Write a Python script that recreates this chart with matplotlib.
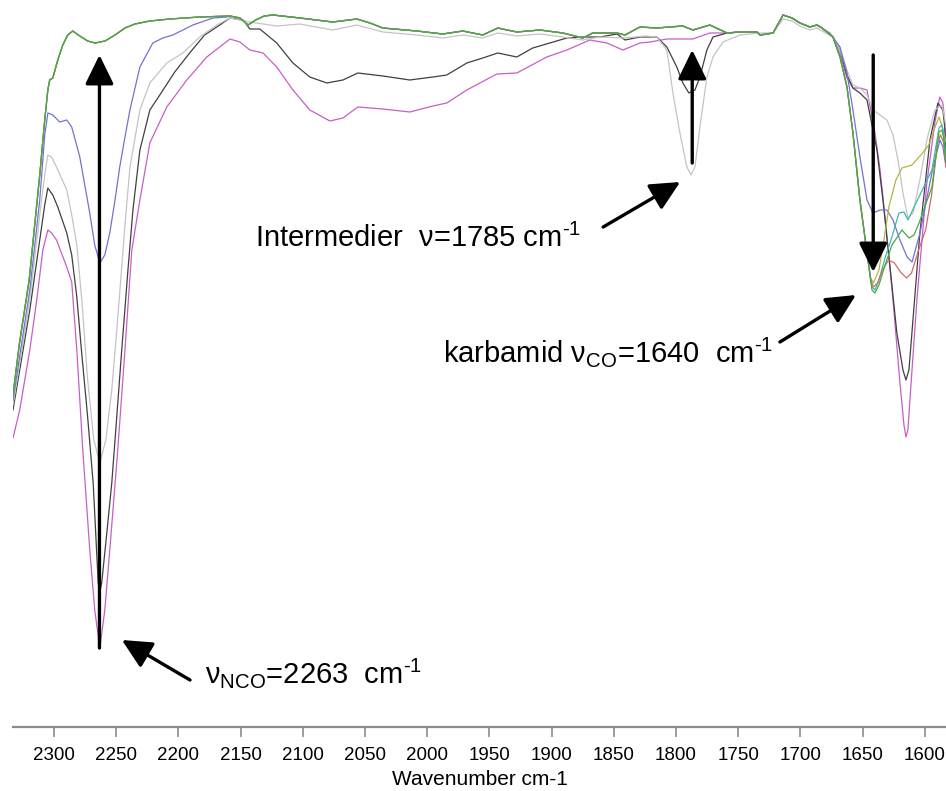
import numpy as np
import matplotlib
matplotlib.use("Agg")
import matplotlib.pyplot as plt

plt.rcParams["font.family"] = ["Liberation Sans", "DejaVu Sans"]
plt.rcParams["mathtext.fontset"] = "custom"
plt.rcParams["mathtext.rm"] = "Liberation Sans"
plt.rcParams["mathtext.it"] = "Liberation Sans:italic"
plt.rcParams["mathtext.bf"] = "Liberation Sans:bold"

# ---- spectra (wavenumber in cm-1, transmittance in arbitrary units) ----
# common trace of the fully reacted samples, 2333 -> 1646 cm-1
base_wn = [2333, 2328, 2320, 2311.5, 2307.5, 2305, 2303.5, 2301, 2297, 2293, 2289, 2285,
           2279.3, 2273, 2267, 2259, 2251, 2243, 2235, 2223, 2207, 2183, 2158.6, 2150.6,
           2144, 2138, 2131, 2124, 2102.4, 2076, 2056.6, 2046, 2035.7, 2008.4, 1987.5,
           1971.4, 1955.4, 1943.3, 1928, 1909.5, 1891, 1875, 1867, 1847.5, 1841, 1829,
           1815.5, 1794.5, 1786.5, 1772.8, 1759, 1748.6, 1735, 1732.4, 1722, 1714, 1706.8,
           1700.4, 1692.4, 1686.7, 1682.7, 1673.9, 1668.2, 1662.6, 1657.8, 1652.2, 1646.5]
base_t = [332, 382, 447, 552, 607, 637, 647, 649, 667, 682, 692, 696,
          691, 686, 684, 686, 692, 699, 703, 706, 708, 710, 711, 709,
          702, 707, 711, 712, 709, 705, 708, 704, 699, 696, 693,
          696, 692, 699, 695, 697, 694, 689, 694, 694, 692, 700,
          699, 701, 697, 702, 694, 695, 695, 692, 694, 712, 709,
          704, 700, 702, 699, 690, 670, 640, 594, 527, 474]

# urea carbonyl region of the fully reacted samples
red_wn = [1643.6, 1641.3, 1638, 1634, 1629.2, 1624.4, 1619.6, 1614.7, 1610.7, 1605, 1599.4,
          1594.6, 1589.8, 1587.4, 1585, 1583]
red_t = [447, 440, 444, 457, 467, 464, 455, 449, 454, 477, 497, 532, 584, 592, 585, 560]

green_wn = [1642.5, 1640.1, 1636.9, 1632, 1626.4, 1618.4, 1612.8, 1608.7, 1604.7, 1594.3,
            1588.6, 1586.4, 1585, 1583]
green_t = [437, 434, 442, 462, 482, 497, 489, 492, 504, 540, 595, 597, 590, 565]

teal_wn = [1642.5, 1640.1, 1636.9, 1632, 1627.2, 1620.8, 1616.8, 1613.6, 1607.1, 1594.3,
           1588.6, 1586.4, 1585, 1583]
teal_t = [440, 437, 447, 469, 487, 514, 515, 507, 524, 557, 599, 602, 595, 570]

olive_wn = [1643.6, 1641.3, 1636.9, 1632.9, 1628.9, 1623.3, 1618.4, 1610.4, 1603.2, 1596.8,
            1591.2, 1588.6, 1586.4, 1585, 1583]
olive_t = [449, 444, 457, 487, 520, 547, 559, 562, 572, 582, 602, 610, 602, 595, 585]

# partially reacted samples
blue_head_wn = [2333, 2319.5, 2311.5, 2307.5, 2305, 2301, 2295.4, 2289.8, 2285.8, 2279.3,
                2275.3, 2271.3, 2267.3, 2263.2, 2259.2, 2255.2, 2251, 2247.2, 2243, 2239,
                2231, 2220.6, 2212.6, 2204.5, 2188.4, 2172.3, 2161]
blue_head_t = [327, 437, 527, 592, 614, 612, 605, 607, 600, 570,
               542, 514, 482, 464, 472, 494, 527, 560, 590, 617,
               660, 684, 689, 692, 702, 709, 710]
blue_tail_wn = [1676.4, 1668.2, 1662.6, 1657.8, 1652.2, 1646.5, 1641.7, 1636.1, 1630.5,
                1625.6, 1620, 1614.3, 1610.3, 1603.9, 1593.4, 1587.8, 1585.5, 1583]
blue_tail_t = [694, 680, 654, 617, 570, 527, 514, 517, 517,
               507, 487, 470, 465, 494, 560, 587, 580, 560]

gray_wn = [2333, 2319.5, 2311.5, 2307.5, 2305, 2302, 2298, 2289.8, 2285.8, 2281.7, 2277.7,
           2273, 2268, 2263.2, 2258.4, 2253.6, 2249.6, 2246.4, 2243, 2239, 2231, 2223,
           2209.4, 2196.5, 2182.8, 2169.2, 2158.6, 2142.6, 2121, 2102.4, 2076, 2056.6,
           2035.7, 2008.4, 1987.5, 1971.4, 1955.4, 1943.3, 1928, 1909.5, 1891, 1875, 1861,
           1841, 1825, 1815.5, 1807.4, 1802.5, 1796.9, 1791.3, 1788, 1784.8, 1780.8,
           1775.2, 1770.3, 1762.3, 1748.6, 1732.5, 1722, 1714, 1706.8, 1700.4, 1692.4,
           1686.7, 1682.7, 1674, 1668.2, 1662.6, 1657.8, 1652.2, 1646.5, 1641.7, 1636,
           1630.5, 1625.6, 1621.6, 1617.6, 1613.6, 1609.5, 1604, 1598.4, 1592, 1586.4,
           1585, 1583]
gray_t = [322, 427, 512, 552, 572, 570, 560, 537, 512, 482, 427,
          347, 287, 264, 287, 337, 397, 447, 502, 560, 617, 644,
          664, 674, 690, 702, 709, 705, 701, 703, 697, 702,
          695, 692, 689, 692, 689, 694, 691, 693, 690, 687, 690,
          689, 691, 690, 677, 634, 594, 560, 552, 560, 600,
          650, 670, 685, 692, 694, 694, 708, 706,
          701, 697, 699, 696, 690, 677, 657, 642, 639, 632, 617, 612,
          607, 592, 567, 534, 509, 514, 547, 587, 617, 622,
          615, 600]

black_head_wn = [2333, 2319.5, 2311.5, 2307.5, 2305, 2301, 2297, 2289.8, 2285.8, 2281.7,
                 2278, 2273, 2268.5, 2264.5, 2263.2, 2261.7, 2257.6, 2253.6, 2249.6, 2245.6,
                 2240.6, 2236.6, 2231, 2223, 2215, 2203, 2191, 2179, 2169.2, 2158.6, 2148,
                 2142.6, 2134.6, 2121, 2108, 2094.4, 2080.7, 2067.8, 2055.8, 2035.7, 2014,
                 1995.5, 1984.3, 1968.2, 1955.4, 1943.3, 1928, 1915.2, 1901.5, 1887.8, 1875,
                 1861.2, 1847.5, 1841, 1829, 1815.5, 1807.4, 1799.4, 1794.5, 1789.7, 1784.8,
                 1780.8, 1775.2, 1770.3, 1759, 1748.6]
black_head_t = [317, 417, 487, 522, 539, 532, 520, 494, 472, 430,
                377, 310, 243, 144, 135, 144, 194, 244, 310, 377,
                457, 517, 577, 617, 632, 655, 674, 692, 700, 709, 707,
                698, 698, 684, 664, 650, 644, 647, 654, 651, 647,
                650, 652, 664, 669, 674, 670, 679, 684, 689, 690,
                690, 693, 687, 690, 690, 680, 660, 644, 634, 637,
                650, 677, 690, 694, 695]
black_tail_wn = [1668.2, 1662.6, 1657.8, 1652.2, 1646.5, 1642.5, 1638.5, 1633.7, 1628,
                 1622.5, 1617.6, 1615.2, 1612.8, 1610.4, 1604, 1595.9, 1589.5, 1585.5,
                 1584, 1583]
black_tail_t = [677, 652, 639, 634, 627, 602, 577, 527, 460,
                394, 357, 347, 357, 394, 494, 587, 624, 617, 600, 570]

magenta_head_wn = [2333, 2327.6, 2319.5, 2313.9, 2309, 2305, 2302, 2298, 2289.8, 2285.8,
                   2281.7, 2276.9, 2271.3, 2267.3, 2263.2, 2259.2, 2255.2, 2248.8, 2243,
                   2237.5, 2231, 2223, 2209.4, 2193.3, 2177.2, 2158.6, 2150.6, 2142.6, 2132,
                   2121, 2108, 2094.4, 2078.3, 2067.8, 2055.8, 2035.7, 2014, 1995.5, 1984.3,
                   1968.2, 1944.1, 1928, 1903.9, 1887.8, 1869.3, 1855.6, 1842.7, 1829,
                   1820.9, 1807.4, 1786.5, 1772.8, 1759]
magenta_head_t = [289, 317, 377, 427, 477, 497, 494, 487, 460, 445,
                  377, 277, 177, 117, 79, 117, 177, 277, 377,
                  477, 527, 584, 620, 647, 670, 688, 685, 677, 674,
                  660, 637, 617, 606, 609, 620, 618, 615, 621, 624,
                  637, 653, 654, 670, 677, 687, 684, 677, 684,
                  685, 688, 688, 694, 694]
magenta_tail_wn = [1668.2, 1662.6, 1657.8, 1652.2, 1646.5, 1640.1, 1636, 1632, 1625.6, 1620,
                   1616.8, 1615.2, 1613.6, 1612, 1606.4, 1598.4, 1592, 1588, 1585.5, 1584,
                   1583]
magenta_tail_t = [672, 649, 639, 639, 637, 594, 557, 510, 427, 344,
                  302, 290, 297, 327, 427, 544, 604, 630, 624, 605, 575]


def splice(head_wn, head_t, tail_wn, tail_t):
    """Join a sample's own segments with the common trace lying between them."""
    bw = np.asarray(base_wn)
    bt = np.asarray(base_t)
    hi = head_wn[-1] if head_wn else np.inf
    lo = tail_wn[0]
    m = (bw < hi) & (bw > lo)
    return (np.concatenate([head_wn, bw[m], tail_wn]),
            np.concatenate([head_t, bt[m], tail_t]))


fig = plt.figure(figsize=(9.46, 7.91), dpi=100)
ax = fig.add_axes([13 / 946, 64 / 791, 933 / 946, 727 / 791])

lw = 0.9
x, y = splice(magenta_head_wn, magenta_head_t, magenta_tail_wn, magenta_tail_t)
ax.plot(x, y, color="#c75ec7", lw=lw)
x, y = splice(black_head_wn, black_head_t, black_tail_wn, black_tail_t)
ax.plot(x, y, color="#404040", lw=lw)
ax.plot(gray_wn, gray_t, color="#c4c4c4", lw=lw)
x, y = splice(blue_head_wn, blue_head_t, blue_tail_wn, blue_tail_t)
ax.plot(x, y, color="#7272d4", lw=lw)
for wn, t, c in [(olive_wn, olive_t, "#b4b444"),
                 (teal_wn, teal_t, "#44b4b4"),
                 (red_wn, red_t, "#d06a6a"),
                 (green_wn, green_t, "#44ac44")]:
    x, y = splice([], [], wn, t)
    ax.plot(x, y, color=c, lw=lw)

ax.set_xlim(2333, 1583)
ax.set_ylim(0, 727)

for s in ("left", "right", "top"):
    ax.spines[s].set_visible(False)
ax.spines["bottom"].set_color("#8c8c8c")
ax.spines["bottom"].set_linewidth(1.6)
ax.set_yticks([])
ax.set_xticks(np.arange(2300, 1599, -50))
ax.tick_params(axis="x", direction="out", length=7.5, width=1.2, colors="#8c8c8c",
               labelcolor="black", labelsize=13.5, pad=7)
ax.set_xlabel("Wavenumber cm-1", fontsize=15, labelpad=4)

# band assignments
arrow_kw = dict(arrowstyle="-|>,head_length=0.45,head_width=0.22", lw=2.4,
                color="black", mutation_scale=40, shrinkA=0, shrinkB=0)
ax.annotate("", xy=(2263.5, 672), xytext=(2263.5, 79), arrowprops=arrow_kw)
ax.annotate("", xy=(1787, 677), xytext=(1787, 564), arrowprops=arrow_kw)
ax.annotate("", xy=(1641.5, 455), xytext=(1641.5, 672), arrowprops=arrow_kw)
ax.annotate("", xy=(1796.7, 545), xytext=(1858.6, 500), arrowprops=arrow_kw)
ax.annotate("", xy=(1655.4, 432), xytext=(1716.5, 385), arrowprops=arrow_kw)
ax.annotate("", xy=(2245.5, 87), xytext=(2190.7, 47), arrowprops=arrow_kw)

fs = 21
ax.text(2138.6, 480, "Intermedier  ν=1785 cm$^{\\text{-1}}$", fontsize=fs,
        ha="left", va="baseline")
ax.text(1987.5, 365, "karbamid ν$_{\\mathrm{CO}}$=1640  cm$^{\\text{-1}}$", fontsize=fs,
        ha="left", va="baseline")
ax.text(2178.9, 44, "ν$_{\\mathrm{NCO}}$=2263  cm$^{\\text{-1}}$", fontsize=fs, ha="left",
        va="baseline")

fig.savefig("out.png", dpi=100)
